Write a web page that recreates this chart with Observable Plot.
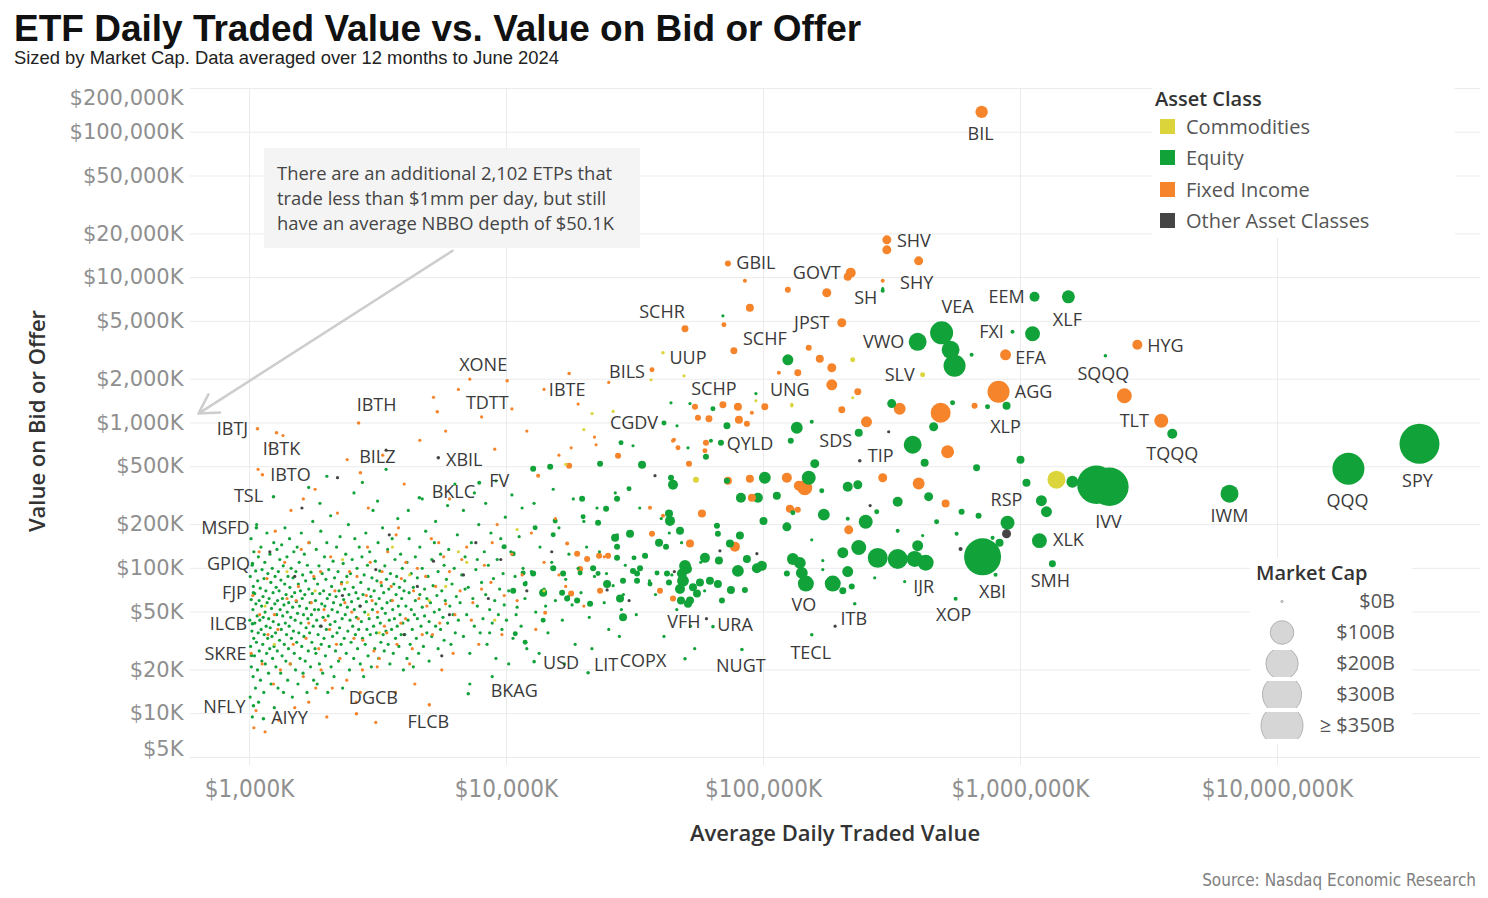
<!DOCTYPE html>
<html><head><meta charset="utf-8">
<script src="https://cdn.jsdelivr.net/npm/d3@7"></script>
<script src="https://cdn.jsdelivr.net/npm/@observablehq/plot@0.6"></script>
<style>
html,body{margin:0;padding:0;background:#fff}
body{width:1488px;height:898px;position:relative;overflow:hidden;font-family:"Open Sans",sans-serif}
.abs{position:absolute;white-space:nowrap}
#title{left:14px;top:10px;font:bold 37px/37px "Liberation Sans",Arial,sans-serif;color:#111}
#subtitle{left:14px;top:49px;font:18.4px/18.4px "Liberation Sans",Arial,sans-serif;color:#222}
#chart{position:absolute;left:0;top:72px}
#note{left:264px;top:148px;width:363px;height:100px;background:#f4f4f4;padding-left:13px;padding-top:0;font-size:18.4px;line-height:25px;color:#444}
#xtitle{left:0;width:1670px;top:817px;text-align:center;font-weight:600;font-size:22px;line-height:30px;color:#333}
#ytitle{left:36px;top:421px;transform:translate(-50%,-50%) rotate(-90deg);font-weight:600;font-size:22px;line-height:30px;color:#333}
#source{right:12px;top:869px;font:17px/22px "Liberation Sans Narrow","DejaVu Sans Condensed",sans-serif;color:#808080}
#legendColor{left:1152px;top:86px;width:303px;height:152px;background:#fff}
#legendSize{left:1250px;top:558px;width:162px;height:186px;background:#fff}
.lgTitle{font-weight:600;font-size:20px;line-height:26px;color:#333}
.lgItem{font-size:20px;line-height:26px;color:#555}
</style></head><body>
<div id="title" class="abs">ETF Daily Traded Value vs. Value on Bid or Offer</div>
<div id="subtitle" class="abs">Sized by Market Cap. Data averaged over 12 months to June 2024</div>
<div id="chart"></div>
<div id="note" class="abs"><div style="height:12px"></div>There are an additional 2,102 ETPs that<br>trade less than $1mm per day, but still<br>have an average NBBO depth of $50.1K</div>
<div id="xtitle" class="abs">Average Daily Traded Value</div>
<div id="ytitle" class="abs">Value on Bid or Offer</div>
<div id="source" class="abs">Source: Nasdaq Economic Research</div>
<div id="legendColor" class="abs"></div>
<div id="legendSize" class="abs"></div>
<script>
// ---------- categories, colours, ticks ----------
const classes = ["Commodities", "Equity", "Fixed Income", "Other Asset Classes"];
const classColors = ["#dcd43b", "#12a23a", "#f5842b", "#454545"];
const xTicks = [1000, 10000, 100000, 1000000, 10000000];          // $K
const yTicks = [5, 10, 20, 50, 100, 200, 500, 1000, 2000, 5000, 10000, 20000, 50000, 100000, 200000]; // $K
const sizeLegendCaps = [0, 100, 200, 300, 350];                    // $B
const sizeLegendLabels = ["$0B", "$100B", "$200B", "$300B", "\u2265 $350B"];

// ---------- labelled ETFs: [ticker, avg daily traded value $K, value on bid/offer $K, market cap $B, class] ----------
const labeledETFs = [
  ["BIL", 706000, 138000, 22, "Fixed Income"],
  ["SHV", 302000, 18200, 9.7, "Fixed Income"],
  ["SHY", 401600, 13050, 9.7, "Fixed Income"],
  ["GOVT", 218500, 10790, 12.9, "Fixed Income"],
  ["SH", 291000, 8115, 0.6, "Equity"],
  ["GBIL", 72720, 12500, 3, "Fixed Income"],
  ["SCHR", 49500, 4445, 4.7, "Fixed Income"],
  ["UUP", 40650, 3040, 0.3, "Commodities"],
  ["BILS", 36830, 2322, 1.5, "Fixed Income"],
  ["SCHF", 124400, 2720, 16.3, "Equity"],
  ["JPST", 201700, 4889, 9.7, "Fixed Income"],
  ["VWO", 398000, 3617, 54, "Equity"],
  ["VEA", 493300, 4173, 95, "Equity"],
  ["SLV", 416200, 2145, 1.5, "Commodities"],
  ["EEM", 1134000, 7380, 12.9, "Equity"],
  ["XLF", 1536000, 7380, 25, "Equity"],
  ["FXI", 931100, 4239, 0.6, "Equity"],
  ["EFA", 874700, 2944, 16.3, "Fixed Income"],
  ["AGG", 821500, 1639, 86, "Fixed Income"],
  ["XLP", 882500, 1313, 7, "Equity"],
  ["SQQQ", 2140000, 2898, 0.3, "Equity"],
  ["HYG", 2849000, 3450, 12.9, "Fixed Income"],
  ["TLT", 3531000, 1035, 30, "Fixed Income"],
  ["TQQQ", 3896000, 843, 12.9, "Equity"],
  ["IVV", 1974000, 376, 290, "Equity"],
  ["IWM", 6506000, 326, 54, "Equity"],
  ["QQQ", 18880000, 484, 195, "Equity"],
  ["SPY", 35690000, 719, 315, "Equity"],
  ["RSP", 890400, 206, 30, "Equity"],
  ["XLK", 1185000, 155, 35, "Equity"],
  ["SMH", 1331000, 107.6, 4.7, "Equity"],
  ["XBI", 799800, 90.4, 0.6, "Equity"],
  ["XOP", 559200, 61.8, 0.6, "Equity"],
  ["IJR", 427600, 109.3, 41, "Equity"],
  ["ITB", 226500, 57.1, 0.3, "Equity"],
  ["VO", 146200, 78.5, 41, "Equity"],
  ["TECL", 154100, 34.9, 0.3, "Equity"],
  ["TIP", 236900, 550, 0.3, "Other Asset Classes"],
  ["SDS", 234800, 856, 7, "Equity"],
  ["VFH", 50840, 57.1, 7, "Equity"],
  ["URA", 63590, 39.7, 0.3, "Equity"],
  ["NUGT", 82420, 27.6, 0.3, "Equity"],
  ["COPX", 49500, 23.9, 0.3, "Equity"],
  ["LIT", 20780, 19.1, 0.3, "Equity"],
  ["USD", 12810, 22.8, 0.3, "Equity"],
  ["BKAG", 7100, 13.7, 0.3, "Equity"],
  ["FLCB", 5008, 11.5, 0.3, "Fixed Income"],
  ["DGCB", 2607, 10.0, 0.3, "Fixed Income"],
  ["AIYY", 1133, 9.24, 0.3, "Equity"],
  ["NFLY", 1036, 11.35, 0.3, "Equity"],
  ["SKRE", 1018, 25.1, 0.3, "Equity"],
  ["ILCB", 1027, 41.6, 0.3, "Equity"],
  ["FJP", 1036, 68.0, 0.3, "Equity"],
  ["GPIQ", 1027, 107.7, 0.3, "Equity"],
  ["MSFD", 1064, 190, 0.3, "Equity"],
  ["TSL", 1240, 311, 0.3, "Equity"],
  ["IBTO", 1123, 440, 0.3, "Fixed Income"],
  ["IBTK", 1274, 856, 0.3, "Fixed Income"],
  ["IBTJ", 1074, 912, 0.3, "Fixed Income"],
  ["IBTH", 2658, 1000, 0.3, "Fixed Income"],
  ["BILZ", 2701, 455, 0.3, "Fixed Income"],
  ["XBIL", 5428, 576, 0.3, "Other Asset Classes"],
  ["BKLC", 4580, 306, 0.3, "Equity"],
  ["FV", 7833, 388, 0.6, "Equity"],
  ["XONE", 10060, 1951, 0.3, "Fixed Income"],
  ["TDTT", 5380, 1194, 0.3, "Fixed Income"],
  ["IBTE", 17530, 2187, 0.3, "Fixed Income"],
  ["CGDV", 41010, 1000, 1.5, "Equity"],
  ["QYLD", 68300, 731, 2.9, "Equity"],
  ["SCHP", 69520, 1334, 4.7, "Fixed Income"],
  ["UNG", 128900, 1313, 0.3, "Commodities"]
];
// label placement (pixel offset of the label centre from its dot)
const labelOffsets = {
  BIL:[-1,22], SHV:[27,1], SHY:[-2,22], GOVT:[-34,0], SH:[-17,7], GBIL:[28,0], SCHR:[-23,-17], UUP:[25,5],
  BILS:[-25,2], SCHF:[-23,-21], JPST:[-30,0], VWO:[-34,0], VEA:[16,-26], SLV:[-23,0], EEM:[-28,0], XLF:[-1,23],
  FXI:[-21,0], EFA:[25,3], AGG:[35,0], XLP:[-1,21], SQQQ:[-2,18], HYG:[28,1], TLT:[-27,0], TQQQ:[0,20],
  IVV:[12,38], IWM:[0,23], QQQ:[-1,32], SPY:[-2,37], RSP:[-1,-22], XLK:[29,0], SMH:[-2,18], XBI:[-3,18],
  XOP:[-2,17], IJR:[-2,25], ITB:[-1,16], VO:[-2,22], TECL:[-1,18], TIP:[21,-4], SDS:[-23,8], VFH:[-4,19],
  URA:[22,-1], NUGT:[-1,17], COPX:[-42,3], LIT:[18,-8], USD:[27,2], BKAG:[46,-3], FLCB:[-1,17], DGCB:[17,-15],
  AIYY:[26,0], NFLY:[-29,2], SKRE:[-26,-1], ILCB:[-24,1], FJP:[-19,1], GPIQ:[-24,1], MSFD:[-31,0], TSL:[-25,0],
  IBTO:[28,0], IBTK:[5,16], IBTJ:[-25,0], IBTH:[18,-18], BILZ:[17,-15], XBIL:[26,2], BKLC:[34,-5], FV:[20,-1],
  XONE:[-24,-16], TDTT:[50,-9], IBTE:[-2,17], CGDV:[-30,0], QYLD:[29,1], SCHP:[-9,-16], UNG:[-2,-16]
};

// ---------- unlabelled medium/large funds: [ADTV $K, bid/offer $K, market cap $B] ----------
const equityMedium = [
  [12700,484,2.9],[14790,500,2.9],[23130,525,2.9],[33690,516,7],[44450,376,12.9],[43660,420,2.9],[19690,301,2.9],[26930,301,2.9],
  [29980,353,1.5],[24410,257,2.9],[42890,238,7],[43270,212,12.9],[47330,181,7],[39220,150,7],[41760,141,2.9],[30250,173,7],
  [26460,162,7],[26930,141,2.9],[22720,206,2.9],[19870,226,1.5],[15470,212,1.5],[15200,170,1.5],[12930,190,1.5],[10620,126,1.5],
  [9800,141,1.5],[34600,122,2.9],[31350,118,1.5],[50390,99,12.9],[48180,92,12.9],[48620,82,20],[47330,72,12.9],[47760,60,7],
  [53170,74,7],[56600,80,7],[61900,82,7],[66470,78,7],[55100,67,7],[51760,60,7],[49500,104,20],[59190,118,12.9],
  [67090,113,7],[79520,96,20],[86200,116,7],[94260,100,12.9],[98570,104,12.9],[84660,71,2.9],[74700,71,7],[68910,60,2.9],
  [65910,196,2.9],[66470,173,2.9],[80960,168,7],[74030,148,7],[95100,306,12.9],[101200,420,20],[81690,306,12.9],[72080,400,2.9],
  [100000,212,7],[112700,316,7],[123300,193,9.7],[134800,927,20],[127700,754,2.9],[42130,92,2.9],[42890,80,2.9],[38530,93,1.5],
  [28410,82,2.9],[32210,92,2.9],[33090,100,2.9],[27660,62,7],[28410,46,7],[24630,78,7],[21150,57,2.9],[18830,60,2.9],
  [17220,62,2.9],[16460,68,2.9],[13890,68,7],[12700,92,2.9],[11610,93,1.5],[10620,70,2.9],[11820,78,1.5],[15200,100,2.9],
  [16610,92,2.9],[19340,93,1.5],[21730,100,2.9],[22720,92,1.5],[31070,96,2.9],[32210,82,2.9],[36180,78,1.5],[26930,118,2.9],
  [11820,31,1.5],[10820,35.5,1.5],[13890,44,1.5],
  [315400,1360,9.7],[544300,1377,1.5],[744500,1292,1.5],[154100,1019,0.6],[380600,708,54],[459300,942,9.7],[423700,532,7],
  [674800,492,4.7],[1000000,558,7],[645300,2944,0.6],[158300,525,9.7],[150000,420,30],[212700,364,12.9],[232800,376,9.7],
  [168600,342,1.5],[171700,234,20],[249900,209,30],[332800,287,12.9],[439100,311,9.7],[1055000,388,7],[1206000,292,16.3],
  [1262000,245,16.3],[590000,245,2.9],[686900,230,2.9],[471800,209,1.5],[275900,245,1.5],[212700,219,0.6],[130100,241,1.5],
  [203500,128,16.3],[234800,139,35],[278300,118,69],[332800,116,69],[387400,116,41],[398000,143,16.3],[212700,95,16.3],
  [186000,78.5,41],[203500,70,4.7],[220500,75,2.9],[130100,116,20],[138500,109,20],[141000,93,20],[123300,92,2.9],
  [332800,181,0.6],[416200,168,0.15],[564200,173,0.6],[828900,150,7],[778500,162,0.6],[154100,157,0.15],[170100,113,0.15],
  [170100,98,0.15],[270900,86,0.15],[354300,81,0.15],
  [72080,956,4.7],[63590,1252,1.5],[59730,586,2.9],[62460,754,0.6],[69520,5462,0.15],[93430,1593,0.15],[43660,1377,0.15],
  [51760,1360,0.15],[50840,675,0.15],[46080,956,0.15],[27910,731,1.5],[31070,697,0.15],
  [2218000,364,290],[1592000,394,20],[534700,3187,54],[554000,2474,86],[1114000,4107,35],[712000,120,267],[291000,8400,0.15]
];
const fixedIncomeMedium = [
  [54130,1292,2.9],[61350,1069,4.7],[79520,1292,7],[80240,1052,7],[86200,988,2.9],[101200,1292,4.7],[44450,754,0.6],[46490,675,1.5],
  [51300,525,2.9],[59730,731,2.9],[59190,644,1.5],[72720,400,7],[88530,413,7],[90130,306,7],[123300,420,12.9],[137300,370,12.9],
  [126600,257,7],[57620,238,7],[51760,148,7],[77410,141,12.9],[36830,173,2.9],[40650,230,0.6],[36180,261,0.6],[27170,595,2.9],
  [17530,508,2.9],[13280,434,0.6],[18830,126,2.9],[22920,122,2.9],[24850,122,2.9],[20590,116,2.9],[19340,99,2.9],[17850,67,2.9],
  [23130,70,2.9],[39570,70,2.9],[44450,62,2.9],[14140,49.5,0.6],[17220,148,0.6],
  [124400,8245,2.9],[176300,7862,9.7],[150000,3290,2.9],[165600,2764,7],[184400,2397,9.7],[136000,2215,4.7],[184400,1831,16.3],
  [232800,1639,4.7],[201700,1232,4.7],[251700,1019,16.3],[338800,1252,20],[489000,1176,69],[520500,634,25],[662700,1313,2.9],
  [291000,420,9.7],[144800,358,35],[401600,383,20],[511200,279,7],[214600,184,9.7],[128900,253,2.9],[136000,253,2.9],
  [84660,9506,0.6],[88530,6198,7],[70150,4737,1.5],[76720,3138,4.7],[114800,2215,0.6],[55600,1086,2.9],[90130,1176,0.6],
  [44850,766,0.6],[22320,708,0.15],[17850,675,0.15],[302000,15530,9.7],[212700,10130,7],[291000,9510,0.6],[2536000,1539,35]
];
const commoditiesMedium = [
  [1380000,407,54],[222500,2720,1.5],[222500,1491,0.15],[128900,1345,0.1],[49050,2111,0.15],[21530,1160,0.15],[36510,1983,0.15],
  [93430,1422,0.1],[54600,407,2.9]
];
const otherMedium = [
  [882500,173,9.7],[584700,136,0.6],[307000,870,0.15],[37830,434,0.15],[94260,126,0.15],[67690,132,0.15],[24630,71,0.15]
];

// ---------- the cloud of small funds: [ADTV $K, bid/offer $K] ----------
const smallCap = 0.15;
const equitySmall = [
  [1003,44],[1006,13],[1007,88],[1010,29],[1014,160],[1016,61],[1017,21],[1022,37],[1024,105],[1026,9.5],[1031,52],[1033,18],
  [1035,75],[1039,33],[1040,130],[1046,25],[1048,67],[1049,42],[1055,15],[1057,96],[1059,57],[1064,31],[1066,200],[1071,47],
  [1074,20],[1076,82],[1081,36],[1083,120],[1085,12],[1090,60],[1092,27],[1097,44],[1101,73],[1103,17],[1108,140],[1110,38],
  [1115,55],[1117,23],[1119,98],[1126,30],[1129,64],[1131,46],[1137,14],[1139,85],[1141,35],[1147,110],[1150,50],[1152,22],
  [1158,70],[1161,40],[1166,26],[1169,175],[1171,58],[1177,33],[1179,92],[1186,19],[1188,45],[1192,62],[1199,28],[1201,125],
  [1204,39],[1211,80],[1213,16],[1218,53],[1223,34],[1226,100],[1230,24],[1235,68],[1237,43],[1243,150],[1246,29],[1249,11],
  [1255,57],[1258,88],[1263,36],[1267,21],[1270,74],[1276,48],[1279,135],[1283,27],[1286,60],[1291,15],[1295,95],[1298,41],
  [1304,70],[1309,32],[1312,115],[1316,52],[1322,19],[1325,83],[1330,38],[1334,145],[1339,25],[1343,62],[1347,47],[1353,104],
  [1356,14],[1362,56],[1366,30],[1371,78],[1374,190],[1379,42],[1385,23],[1388,66],[1394,35],[1399,120],[1403,50],[1408,17],
  [1412,88],[1418,28],[1421,58],[1427,40],[1432,160],[1436,74],[1441,22],[1447,46],[1452,100],[1456,33],[1461,64],[1468,13],
  [1472,54],[1477,86],[1482,37],[1488,130],[1494,26],[1499,68],[1505,44],[1511,20],[1516,95],[1521,59],[1527,31],[1533,140],
  [1538,49],[1544,16],[1549,78],[1556,36],[1561,110],[1567,55],[1573,24],[1579,70],[1585,42],[1591,175],[1597,29],[1604,62],
  [1610,90],[1616,19],[1622,48],[1629,34],[1635,125],[1641,66],[1648,23],[1654,82],[1661,39],[1667,53],[1674,14],[1680,105],
  [1687,45],[1694,27],[1701,72],[1708,150],[1714,36],[1721,58],[1728,21],[1735,94],[1742,48],[1749,31],[1756,67],[1763,210],
  [1770,40],[1777,17],[1785,85],[1792,52],[1799,28],
  [1806,60],[1813,26],[1819,135],[1826,44],[1834,16],[1841,78],[1849,35],[1856,52],[1864,104],[1871,22],[1879,67],[1887,40],
  [1894,180],[1902,30],[1910,57],[1918,92],[1926,19],[1934,46],[1942,70],[1950,33],[1958,120],[1966,55],[1975,25],[1983,84],
  [1991,38],[2000,150],[2008,62],[2017,14],[2025,47],[2034,98],[2043,29],[2051,66],[2060,41],[2069,230],[2078,21],[2087,75],
  [2096,52],[2105,34],[2115,112],[2124,58],[2133,18],[2143,86],[2152,43],[2162,27],[2172,64],[2181,140],[2191,36],[2201,50],
  [2211,95],[2221,23],[2231,70],[2241,39],[2252,165],[2262,56],[2272,30],[2283,80],[2293,45],[2304,15],[2315,108],[2325,61],
  [2336,33],[2347,72],[2358,48],[2369,125],[2380,26],[2392,88],[2403,54],[2414,37],[2426,200],[2438,66],[2449,20],[2461,44],
  [2473,92],[2485,31],[2497,59],[2509,115],[2521,40],[2533,74],[2545,24],[2558,52],[2570,160],[2583,35],[2595,68],
  [2608,46],[2621,100],[2634,28],[2647,62],[2660,38],[2673,140],[2686,55],[2699,22],[2712,80],[2726,43],[2739,120],[2753,33],
  [2766,66],[2780,18],[2794,90],[2808,50],[2822,30],[2836,175],[2850,59],[2864,38],[2878,105],[2893,25],[2907,72],[2922,45],
  [2936,130],[2951,35],[2966,64],[2980,21],[2995,86],[3010,52],[3025,250],[3040,40],[3056,70],[3071,28],[3087,112],[3102,57],
  [3118,36],[3133,82],[3149,46],[3165,150],[3181,24],[3197,62],[3213,96],[3229,42],[3246,31],[3262,76],[3279,53],[3295,190],
  [3312,35],[3328,68],[3345,27],[3362,104],[3379,49],[3396,37],[3413,84],[3430,58],[3448,135],[3465,30],[3483,72],[3500,44],
  [3518,22],[3536,92],[3554,60],[3572,38],[3590,160],[3608,52],[3627,26],[3645,78],[3663,45],[3682,115],[3700,33],[3719,66],
  [3738,88],[3757,40],[3776,220],[3795,55],[3814,29],[3833,74],[3853,48],[3872,125],[3892,35],[3911,62],[3931,100],[3951,42],
  [3971,20],[3991,70],[2550,330],[3150,290],[2750,390],[3400,480],[1880,280],[1700,360],[2000,430],
  [4020,35],[4020,82],[4060,55],[4100,24],[4100,110],[4140,44],[4180,68],[4180,160],[4220,30],[4260,52],[4260,92],[4300,38],
  [4340,74],[4340,21],[4380,48],[4420,120],[4420,60],[4460,33],[4500,86],[4500,45],[4550,26],[4600,66],[4600,140],[4650,40],
  [4700,54],[4700,100],[4750,29],[4800,72],[4800,47],[4850,180],[4900,36],[4900,62],[4950,88],[5000,43],[5000,23],[5060,58],
  [5120,115],[5120,34],[5180,76],[5240,50],[5240,150],[5300,40],[5360,65],[5420,28],[5420,95],[5480,52],[5540,125],[5540,38],
  [5600,70],[5660,46],[5720,32],[5720,105],[5780,60],[5840,84],[5900,42],[5960,135],[6020,55],[6080,30],[6140,78],[6200,48],
  [6260,100],[6320,36],[6380,64],[6440,170],[6500,44],[4150,250],[4700,300],[5300,210],[5900,270],[6300,380],
  [6600,58],[6700,90],[6800,34],[6900,120],[7000,48],[7100,74],[7200,26],[7300,150],[7400,62],[7500,40],[7600,98],[7700,55],
  [7800,200],[7900,36],[8000,80],[8100,45],[8200,130],[8300,66],[8400,30],[8500,105],[8600,52],[8700,175],[8800,42],[8900,85],
  [9000,60],[9100,24],[9200,115],[9300,48],[9400,72],[9500,160],[9600,38],[9700,92],[9800,56],[9900,225],[10000,44],[10200,70],
  [10400,130],[10600,33],[10800,88],[11000,54],[11200,165],[11400,40],[11600,100],[11800,62],[12000,28],[6800,250],[7500,330],
  [8300,280],[9100,400],[10500,320],[11500,260],[7200,16],[8800,18],[10200,22],[6900,72],[7700,115],[8600,36],[9700,140],
  [10900,48],[11900,80],
  [12500,95],[13000,50],[13500,140],[14000,72],[14500,36],[15000,110],[15500,60],[16000,190],[16500,44],[17000,84],[17500,125],
  [18000,56],[18500,30],[19000,100],[19500,68],[20000,210],[21000,46],[22000,88],[23000,130],[24000,58],[25000,38],[26000,76],
  [27000,170],[28000,52],[29000,105],[12800,280],[15200,350],[18200,300],[22500,260],[26500,330],[13400,26],[16800,22],
  [21500,28],[27500,34],[14200,55],[17400,64],[20500,140],[24500,92],[28500,66],
  [32000,48],[35000,120],[38000,66],[41000,34],[44000,90],[48000,150],[52000,40],[57000,110],[33000,260],[40000,220],[46000,52],
  [54000,28],[36000,82],[43000,175],[59000,70]
];
const fixedIncomeSmall = [
  [1060,10.5],[1120,22],[1180,35],[1250,48],[1320,20],[1400,62],[1480,30],[1550,75],[1620,18],[1700,42],[1780,88],[1860,28],
  [1950,52],[2050,38],[2150,70],[2250,24],[2350,58],[2450,95],[2550,33],[2650,45],[2750,20],[2850,65],[2950,110],[3050,27],
  [3150,50],[3250,80],[3350,40],[3450,130],[3600,60],[3750,30],[3900,85],[4050,45],[4200,22],[4350,70],[4500,100],[4700,35],
  [4900,55],[5100,160],[5300,75],[5500,42],[5700,120],[6000,95],[6300,48],[6600,70],[7000,140],[7400,58],[7800,30],[8200,105],
  [8700,80],[9200,200],[9800,65],[10500,125],[11500,90],[12500,175],[14000,110],[15500,220],[17000,75],[1040,8],[1150,7.5],
  [1300,9],[1500,11],[1700,12],[2000,9.5],[2600,12],[3100,8.7],[3700,14],[1080,480],[1200,700],[1350,820],[1800,350],[2400,560],
  [2900,260],[3300,600],[4000,380],[4600,760],[5200,1500],[5800,880],[6500,1700],[7200,2000],[8000,1100],[9000,660],[10500,1250],
  [12000,880],[14000,1700],[16000,600],[19000,1350],[22000,800],[25000,1900],[1700,150],[2200,240],[3800,190],[6000,300],
  [1900,20],[2100,15],[2700,14],[3200,24],[4400,16],[5600,20],[1030,65],[1090,130],[1260,180],[1450,250],[1620,300],
  [1015,26],[1095,48],[1170,85],[1240,16],[1290,38],[1370,110],[1440,22],[1520,60],[1590,135],[1660,33],[1740,58],[1810,15],
  [1890,95],[1970,44],[2070,120],[2180,30],[2280,78],[2390,17],[2500,50],[2620,88],[2760,32],[2880,140],[3000,60],[3140,21],
  [3280,95],[3420,36],[3560,75],[3720,170],[3880,42],[4060,110],[4300,28],[4560,62],[4850,88],[5150,35],[5450,150],[5800,57],
  [6200,26],[6700,115],[7300,44],[8000,72],[8800,150],[9600,35],[11000,60],[13000,38],[16000,90],[20000,55],[24000,120]
];
const commoditiesSmall = [
  [1150,55],[1400,95],[1800,70],[2300,115],[2900,48],[3600,140],[4200,90],[5000,60],[5800,75],[7000,110],[9000,44],[11000,185],
  [14000,70],[20000,900],[26000,1200],[17000,520],[2400,80],[1250,30],[3200,36],[6500,130]
];
const otherSmall = [
  [1200,130],[1500,88],[1900,40],[2300,65],[2700,55],[3100,98],[3500,170],[4000,35],[4500,75],[5200,112],[6000,48],[6800,90],
  [7600,150],[8500,62],[9500,115],[12000,70],[15000,130],[1600,260],[2200,420],[3400,650],[5600,25],[30000,60],[45000,95],
  [60000,45],[190000,40],[260000,270]
];

// annotation arrow (data coordinates, $K)
const annotationArrow = [{x1: 6170, y1: 15300, x2: 633, y2: 1160}];

// ---------- assemble ----------
const labeled = labeledETFs.map(([name, x, y, cap, cls]) => ({name, x, y, cap, cls}));
const med = (arr, cls) => arr.map(([x, y, cap]) => ({x, y, cap, cls}));
const sml = (arr, cls) => arr.map(([x, y]) => ({x, y, cap: smallCap, cls}));
const points = [
  ...sml(equitySmall, "Equity"), ...sml(fixedIncomeSmall, "Fixed Income"),
  ...sml(commoditiesSmall, "Commodities"), ...sml(otherSmall, "Other Asset Classes"),
  ...med(equityMedium, "Equity"), ...med(fixedIncomeMedium, "Fixed Income"),
  ...med(commoditiesMedium, "Commodities"), ...med(otherMedium, "Other Asset Classes"),
  ...labeled
];

const fmtK = d => "$" + d3.format(",")(d) + "K";
const rRange = [1.2, 21];
const tickFont = "DejaVu Sans";
const tickGray = "#8f8f8f";
const labelStyle = {fontSize: 18, fill: "#3a3a3a", fontFamily: "Open Sans"};
const yLabelStyle = {frameAnchor: "left", textAnchor: "end", fontSize: 21, fontFamily: tickFont, fill: tickGray};

const chart = Plot.plot({
  width: 1488, height: 826,
  marginLeft: 190, marginRight: 8, marginTop: 16, marginBottom: 133,
  x: {type: "log", domain: [589.5, 61650000], axis: null},
  y: {type: "log", domain: [4.4, 200000], axis: null},
  r: {type: "sqrt", domain: [0, 350], range: rRange, clamp: true},
  color: {domain: classes, range: classColors},
  style: {background: "transparent", overflow: "visible"},
  marks: [
    Plot.gridY(yTicks, {stroke: "#ebebeb", strokeOpacity: 1}),
    Plot.gridX(xTicks, {stroke: "#ebebeb", strokeOpacity: 1}),
    Plot.axisX(xTicks, {tickSize: 0, tickPadding: 14, tickFormat: fmtK, label: null, fontSize: 24,
      fontFamily: "DejaVu Sans Condensed", color: tickGray}),
    Plot.text(yTicks.slice(1, -1), {y: d => d, text: fmtK, dx: -7, ...yLabelStyle}),
    Plot.text(yTicks.slice(-1), {y: d => d, text: fmtK, dx: -7, dy: 10, ...yLabelStyle}),
    Plot.text(yTicks.slice(0, 1), {y: d => d, text: fmtK, dx: -7, dy: -8, ...yLabelStyle}),
    Plot.arrow(annotationArrow, {x1: "x1", y1: "y1", x2: "x2", y2: "y2", stroke: "#cdcdcd", strokeWidth: 2.5, headLength: 13}),
    Plot.dot(points, {x: "x", y: "y", r: "cap", fill: "cls"}),
    ...labeled.map(d => Plot.text([d], {x: "x", y: "y", text: "name",
      dx: labelOffsets[d.name][0], dy: labelOffsets[d.name][1], ...labelStyle}))
  ]
});
document.getElementById("chart").appendChild(chart);

// ---------- colour legend ----------
const lc = document.getElementById("legendColor");
lc.innerHTML = `<div class="abs lgTitle" style="left:3px;top:0px">Asset Class</div>` +
  classes.map((c, i) => `<div class="abs" style="left:8px;top:${33 + i * 31.3}px;width:15px;height:15px;background:${classColors[i]}"></div>` +
    `<div class="abs lgItem" style="left:34px;top:${28 + i * 31.3}px">${c}</div>`).join("");

// ---------- size legend ----------
const rScale = d3.scaleSqrt().domain([0, 350]).range(rRange).clamp(true);
const ls = document.getElementById("legendSize");
ls.innerHTML = `<div class="abs lgTitle" style="left:6px;top:2px">Market Cap</div>` +
  sizeLegendCaps.map((v, i) => {
    const cy = 43 + i * 31;
    const r = rScale(v);
    return `<svg class="abs" style="left:8px;top:${cy - 13}px" width="50" height="27">` +
      `<circle cx="24" cy="13.5" r="${r}" fill="#d6d6d6" stroke="#b3b3b3" stroke-width="1"/></svg>` +
      `<div class="abs lgItem" style="right:17px;top:${cy - 13}px">${sizeLegendLabels[i]}</div>`;
  }).join("");
</script>
</body></html>
